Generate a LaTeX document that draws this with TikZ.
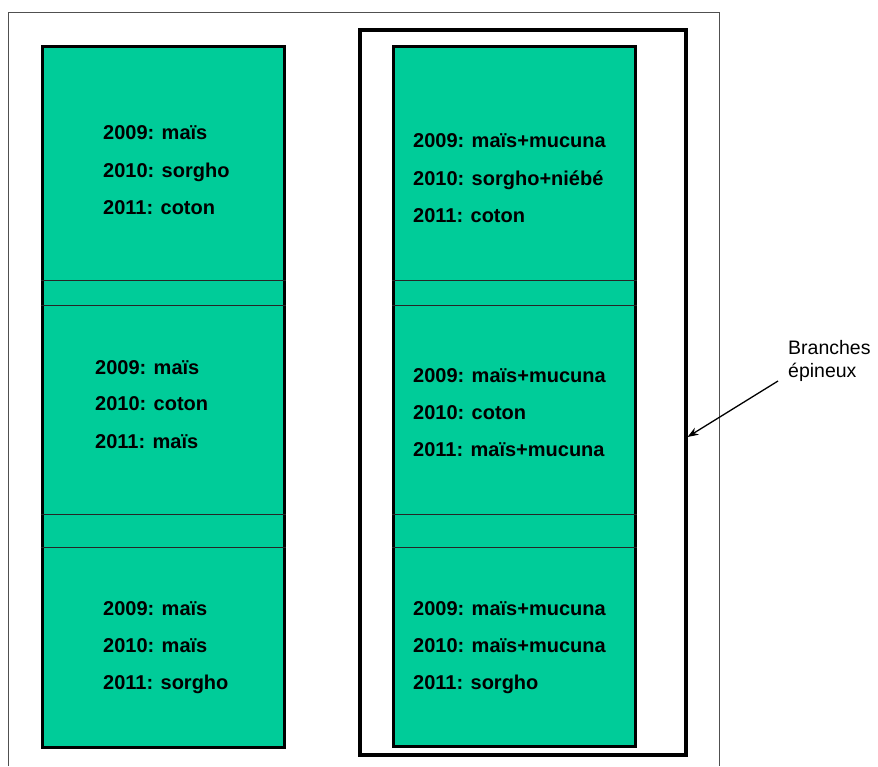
\documentclass[tikz,border=0pt]{standalone}
\usepackage{fontspec}
\setmainfont{Liberation Sans}
\usetikzlibrary{arrows.meta}
\definecolor{plotgreen}{HTML}{00CC99}
\definecolor{framegray}{HTML}{505050}
\begin{document}
\begin{tikzpicture}[x=1pt,y=-1pt,
  plot/.style={draw=black,line width=3pt,fill=plotgreen},
  divider/.style={draw=black!85,line width=1pt},
  crop/.style={font=\fontsize{20}{24}\selectfont\bfseries,anchor=base west,inner sep=0pt},
  note/.style={font=\fontsize{19.5}{23}\selectfont,align=left,anchor=north west,inner sep=0pt},
  hedge/.style={draw=black,line width=4pt},
  pointer/.style={draw=black,line width=1.3pt,-{Stealth[length=11pt,width=8pt]}}]
\useasboundingbox (0,0) rectangle (878,766);
\fill[white] (0,0) rectangle (878,766);
% page frame, open at the bottom
\draw[framegray,line width=1pt] (8.5,766) -- (8.5,12.8) -- (719,12.8) -- (719,766);

% thorny hedge around the mucuna plots
\node[hedge,rectangle,minimum width=325.2pt,minimum height=725pt,inner sep=0pt] (hedge) at (522.9,392.8) {};

% plot columns
\node[plot,rectangle,minimum width=242.3pt,minimum height=700.5pt,inner sep=0pt] (left) at (163.15,396.75) {};
\node[plot,rectangle,minimum width=241.7pt,minimum height=699.5pt,inner sep=0pt] (right) at (514.15,396.25) {};

% strips separating the plots
\foreach \yy in {280.3,305.3,514,547.7}{
  \draw[divider] (left.west |- 0,\yy) -- (left.east |- 0,\yy);
  \draw[divider] (right.west |- 0,\yy) -- (right.east |- 0,\yy);
}

% left column, plot texts
\node[crop] (l11) at (103,139) {2009: maïs};
\node[crop] (l12) at (103,177) {2010: sorgho};
\node[crop] (l13) at (103,214) {2011: coton};
\node[crop] (l21) at (95,374) {2009: maïs};
\node[crop] (l22) at (95,410) {2010: coton};
\node[crop] (l23) at (95,448) {2011: maïs};
\node[crop] (l31) at (103,615) {2009: maïs};
\node[crop] (l32) at (103,652) {2010: maïs};
\node[crop] (l33) at (103,689) {2011: sorgho};

% right column, plot texts
\node[crop] (r11) at (413,147) {2009: maïs+mucuna};
\node[crop] (r12) at (413,185) {2010: sorgho+niébé};
\node[crop] (r13) at (413,222) {2011: coton};
\node[crop] (r21) at (413,382) {2009: maïs+mucuna};
\node[crop] (r22) at (413,419) {2010: coton};
\node[crop] (r23) at (413,456) {2011: maïs+mucuna};
\node[crop] (r31) at (413,615) {2009: maïs+mucuna};
\node[crop] (r32) at (413,652) {2010: maïs+mucuna};
\node[crop] (r33) at (413,689) {2011: sorgho};

% hedge label and pointer
\node[note] (label) at (788,340) {Branches\\épineux};
\coordinate (tail) at (778,381);
\draw[pointer] (tail) -- (hedge.east |- 0,437);
\end{tikzpicture}
\end{document}
